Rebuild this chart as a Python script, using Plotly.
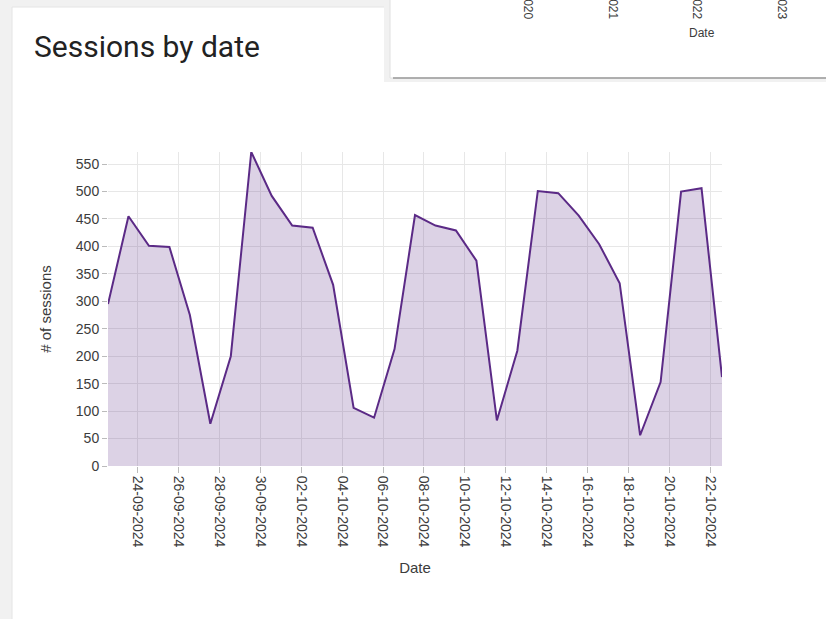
import plotly.graph_objects as go
import pandas as pd

# ---- data ----
dates = pd.date_range("2024-09-22 13:30", "2024-10-22 13:30", freq="D")
sessions = [295, 455, 401, 399, 275, 77, 200, 572, 492, 438, 434, 330, 106, 88, 213,
            457, 438, 429, 374, 83, 210, 501, 497, 456, 404, 333, 56, 153, 500, 506, 162]
bg_years = ["2020", "2021", "2022", "2023"]

W, H = 826, 619
L, R, T, B = 108, 104, 152, 153
PW, PH = W - L - R, H - T - B


def px(x):
    return (x - L) / PW


def py(y):
    return (H - B - y) / PH


LINE = "#5b2a86"
FILL = "rgba(91,42,134,0.21)"
TXT = "#3c3c3c"
FONT = "Liberation Sans, Arial, sans-serif"

fig = go.Figure()
fig.add_trace(go.Scatter(
    x=dates, y=sessions, mode="lines", fill="tozeroy",
    line=dict(color=LINE, width=2), fillcolor=FILL, hoverinfo="x+y",
))

shapes = [
    # main card
    dict(type="rect", xref="paper", yref="paper", x0=px(12), x1=px(840), y0=py(640), y1=py(7),
         fillcolor="white", line=dict(color="#e4e4e4", width=1), layer="below"),
    # overlapping card shadow
    dict(type="rect", xref="paper", yref="paper", x0=px(384), x1=px(840), y0=py(82), y1=py(-10),
         fillcolor="#f1f1f1", line=dict(width=0), layer="below"),
    dict(type="rect", xref="paper", yref="paper", x0=px(390), x1=px(840), y0=py(78), y1=py(-10),
         fillcolor="white", line=dict(color="#e0e0e0", width=1), layer="below"),
    dict(type="line", xref="paper", yref="paper", x0=px(393), x1=px(840), y0=py(78), y1=py(78),
         line=dict(color="#9a9a9a", width=1.5), layer="below"),
]

annotations = [
    dict(text="Sessions by date", xref="paper", yref="paper", x=px(32), y=py(46),
         xanchor="left", yanchor="middle", showarrow=False,
         font=dict(family="Roboto, sans-serif", size=30, color="#222222")),
    dict(text="Date", xref="paper", yref="paper", x=px(702), y=py(33),
         xanchor="center", yanchor="middle", showarrow=False,
         font=dict(family=FONT, size=12, color=TXT)),
]
for yr, xp in zip(bg_years, [528, 613, 697, 782]):
    annotations.append(dict(text=yr, xref="paper", yref="paper", x=px(xp), y=py(21),
                            xanchor="center", yanchor="bottom", textangle=90, showarrow=False,
                            font=dict(family=FONT, size=12, color=TXT)))

fig.update_layout(
    width=W, height=H,
    margin=dict(l=L, r=R, t=T, b=B, pad=0),
    paper_bgcolor="#f1f1f1",
    plot_bgcolor="rgba(0,0,0,0)",
    showlegend=False,
    font=dict(family=FONT, size=14, color=TXT),
    shapes=shapes,
    annotations=annotations,
    xaxis=dict(
        type="date", tickformat="%d-%m-%Y", dtick=2 * 86400000, tick0="2024-09-24",
        tickangle=90, ticks="outside", ticklen=6, tickcolor="#bbbbbb",
        tickfont=dict(size=14, color=TXT),
        showgrid=True, gridcolor="#e7e7e7", gridwidth=1,
        showline=False, zeroline=False,
        title=dict(text="Date", font=dict(size=15, color=TXT)),
        range=[dates[0], dates[-1]], automargin=False,
    ),
    yaxis=dict(
        range=[0, 572], dtick=50, ticks="outside", ticklen=5, tickcolor="#bbbbbb",
        tickfont=dict(size=14, color=TXT),
        showgrid=True, gridcolor="#e7e7e7", gridwidth=1,
        showline=False, zeroline=False,
        title=dict(text="# of sessions", font=dict(size=15, color=TXT), standoff=20),
        automargin=True,
    ),
)

fig.write_html(
    "out.html",
    config={"displayModeBar": False},
    post_script="document.body.style.margin='0';document.body.style.background='#f1f1f1';",
)
